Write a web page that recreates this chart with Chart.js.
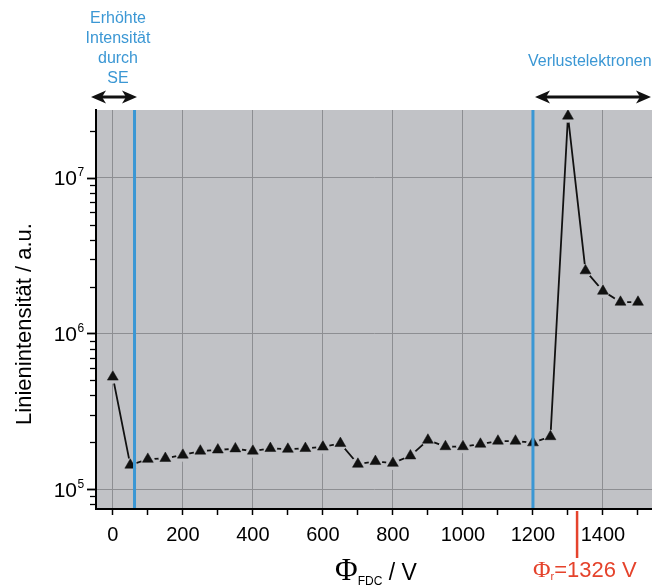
<!DOCTYPE html>
<html>
<head>
<meta charset="utf-8">
<script src="https://cdn.jsdelivr.net/npm/chart.js@4/dist/chart.umd.min.js"></script>
<style>
  html, body { margin: 0; padding: 0; background: #ffffff; }
  #wrap { width: 652px; height: 585px; }
</style>
</head>
<body>
<div id="wrap"><canvas id="chart" width="652" height="585"></canvas></div>
<script>
// Retarding potential of the FDC (V)
const potentials = [0, 50, 100, 150, 200, 250, 300, 350, 400, 450, 500, 550, 600, 650, 700, 750,
                    800, 850, 900, 950, 1000, 1050, 1100, 1150, 1200, 1250, 1300, 1350, 1400, 1450, 1500];
// Line intensity (a.u.)
const intensities = [5.26e5, 1.43e5, 1.56e5, 1.58e5, 1.66e5, 1.76e5, 1.79e5, 1.82e5, 1.76e5, 1.83e5,
                     1.81e5, 1.83e5, 1.87e5, 1.97e5, 1.45e5, 1.51e5, 1.47e5, 1.64e5, 2.07e5, 1.88e5,
                     1.88e5, 1.95e5, 2.04e5, 2.04e5, 1.99e5, 2.18e5, 2.49e7, 2.53e6, 1.87e6, 1.59e6, 1.59e6];

// Axis ticks
const xTickValues = [0, 100, 200, 300, 400, 500, 600, 700, 800, 900, 1000, 1100, 1200, 1300, 1400, 1500];
const xLabelStep = 200;
const yDecades = [1e5, 1e6, 1e7];
const yMinorTicks = [8e4, 9e4, 2e5, 3e5, 4e5, 5e5, 6e5, 7e5, 8e5, 9e5,
                     2e6, 3e6, 4e6, 5e6, 6e6, 7e6, 8e6, 9e6, 2e7];

// Region boundaries and the retarding potential marker (V)
const seBoundary = 62;
const lossBoundary = 1200;
const retardPotential = 1326;

const SANS = "'Liberation Sans', Arial, Helvetica, sans-serif";
const SERIF = "'Liberation Serif', 'Times New Roman', serif";
const PLOT_BG = '#c1c2c6';
const GRID = '#8d8e92';
const BLUE = '#3b97d4';
const RED = '#e5432c';

const points = potentials.map((x, i) => ({ x: x, y: intensities[i] }));

// Gray plot area behind grid and data
const plotBackground = {
  id: 'plotBackground',
  beforeDraw(chart) {
    const { ctx, chartArea: a } = chart;
    ctx.save();
    ctx.fillStyle = PLOT_BG;
    ctx.fillRect(a.left, a.top, a.right - a.left, a.bottom - a.top);
    ctx.restore();
  }
};

// Blue boundaries of the two regions
const regionLines = {
  id: 'regionLines',
  afterDatasetsDraw(chart) {
    const { ctx, chartArea: a, scales: { x } } = chart;
    ctx.save();
    ctx.strokeStyle = BLUE;
    ctx.lineWidth = 3;
    [seBoundary, lossBoundary].forEach(v => {
      const px = x.getPixelForValue(v);
      ctx.beginPath();
      ctx.moveTo(px, a.top);
      ctx.lineTo(px, a.bottom - 1);
      ctx.stroke();
    });
    ctx.restore();
  }
};

function arrowHead(ctx, tipX, y, dir) {
  const len = 15, half = 6.5, notch = 4;
  ctx.beginPath();
  ctx.moveTo(tipX, y);
  ctx.lineTo(tipX + dir * len, y - half);
  ctx.lineTo(tipX + dir * (len - notch), y);
  ctx.lineTo(tipX + dir * len, y + half);
  ctx.closePath();
  ctx.fill();
}

function doubleArrow(ctx, x1, x2, y) {
  ctx.save();
  ctx.strokeStyle = '#111';
  ctx.fillStyle = '#111';
  ctx.lineWidth = 3;
  ctx.beginPath();
  ctx.moveTo(x1 + 8, y);
  ctx.lineTo(x2 - 8, y);
  ctx.stroke();
  arrowHead(ctx, x1, y, 1);
  arrowHead(ctx, x2, y, -1);
  ctx.restore();
}

// Φ with a subscript followed by plain text
function phiLabel(ctx, x, baseline, sub, rest, color, phiSize, subSize, restSize, subDrop) {
  ctx.save();
  ctx.fillStyle = color;
  ctx.textAlign = 'left';
  ctx.textBaseline = 'alphabetic';
  ctx.font = phiSize + 'px ' + SERIF;
  ctx.fillText('\u03A6', x, baseline);
  let cx = x + ctx.measureText('\u03A6').width;
  ctx.font = subSize + 'px ' + SANS;
  ctx.fillText(sub, cx, baseline + subDrop);
  cx += ctx.measureText(sub).width;
  ctx.font = restSize + 'px ' + SANS;
  ctx.fillText(rest, cx, baseline);
  ctx.restore();
}

const decorations = {
  id: 'decorations',
  afterDraw(chart) {
    const { ctx, chartArea: a, scales: { x, y } } = chart;
    ctx.save();

    // y tick marks
    ctx.strokeStyle = '#000';
    yMinorTicks.forEach(v => {
      const py = Math.round(y.getPixelForValue(v)) + 0.5;
      ctx.lineWidth = 1.3;
      ctx.beginPath();
      ctx.moveTo(a.left - 6, py);
      ctx.lineTo(a.left, py);
      ctx.stroke();
    });
    yDecades.forEach(v => {
      const py = Math.round(y.getPixelForValue(v)) + 0.5;
      ctx.lineWidth = 1.8;
      ctx.beginPath();
      ctx.moveTo(a.left - 9, py);
      ctx.lineTo(a.left, py);
      ctx.stroke();
    });

    // y tick labels as powers of ten
    ctx.fillStyle = '#000';
    yDecades.forEach(v => {
      const py = y.getPixelForValue(v);
      const exp = Math.round(Math.log10(v));
      ctx.font = '21px ' + SANS;
      ctx.textAlign = 'right';
      ctx.textBaseline = 'alphabetic';
      ctx.fillText('10', 77, py + 7.5);
      ctx.font = '12px ' + SANS;
      ctx.textAlign = 'left';
      ctx.fillText(String(exp), 77.5, py - 1.5);
    });

    // y axis title
    ctx.save();
    ctx.translate(25, 324);
    ctx.rotate(-Math.PI / 2);
    ctx.font = '22px ' + SANS;
    ctx.textAlign = 'center';
    ctx.textBaseline = 'middle';
    ctx.fillText('Linienintensit\u00e4t / a.u.', 0, 0);
    ctx.restore();

    // x axis title
    phiLabel(ctx, 335, 580, 'FDC', ' / V', '#000', 31, 12, 23, 5);

    // retarding potential marker below the axis
    const rx = x.getPixelForValue(retardPotential);
    ctx.strokeStyle = RED;
    ctx.lineWidth = 2.5;
    ctx.beginPath();
    ctx.moveTo(rx, a.bottom + 2);
    ctx.lineTo(rx, a.bottom + 49);
    ctx.stroke();
    phiLabel(ctx, 533, 577, 'r', '=1326 V', RED, 24, 11, 22, 3);

    // region annotations
    ctx.fillStyle = BLUE;
    ctx.font = '16px ' + SANS;
    ctx.textAlign = 'center';
    ctx.textBaseline = 'alphabetic';
    ['Erh\u00f6hte', 'Intensit\u00e4t', 'durch', 'SE'].forEach((t, i) => {
      ctx.fillText(t, 118, 23 + i * 20);
    });
    ctx.textAlign = 'left';
    ctx.fillText('Verlustelektronen', 528, 66);

    doubleArrow(ctx, 91, 137, 97);
    doubleArrow(ctx, 535, 651, 97);

    ctx.restore();
  }
};

new Chart(document.getElementById('chart'), {
  type: 'line',
  data: {
    datasets: [
      {
        data: points,
        borderColor: '#111',
        borderWidth: 1.8,
        pointRadius: 0,
        tension: 0,
        order: 3
      },
      {
        // gap around each marker
        data: points,
        showLine: false,
        pointStyle: 'circle',
        pointRadius: 6.8,
        pointBackgroundColor: PLOT_BG,
        pointBorderWidth: 0,
        order: 2
      },
      {
        data: points,
        showLine: false,
        pointStyle: 'triangle',
        pointRadius: 6.3,
        pointBackgroundColor: '#111',
        pointBorderColor: '#111',
        pointBorderWidth: 0.5,
        order: 1
      }
    ]
  },
  options: {
    responsive: false,
    animation: false,
    devicePixelRatio: 1,
    layout: { autoPadding: false, padding: { top: 110, left: 0, right: 0, bottom: 0 } },
    plugins: { legend: { display: false }, tooltip: { enabled: false } },
    scales: {
      x: {
        type: 'linear',
        min: -48,
        max: 1540,
        afterBuildTicks: s => { s.ticks = xTickValues.map(v => ({ value: v })); },
        afterFit: s => { s.height = 76; s.paddingLeft = 0; s.paddingRight = 0; },
        grid: {
          color: c => (c.tick && c.tick.value % xLabelStep === 0) ? GRID : 'rgba(0,0,0,0)',
          lineWidth: 1,
          tickColor: '#000',
          tickLength: 6,
          tickWidth: 1.5
        },
        border: { color: '#000', width: 2 },
        ticks: {
          autoSkip: false,
          maxRotation: 0,
          padding: 8,
          color: '#000',
          font: { family: SANS, size: 20 },
          callback: v => (v % xLabelStep === 0 ? String(v) : '')
        }
      },
      y: {
        type: 'logarithmic',
        min: 7.47e4,
        max: 2.72e7,
        afterBuildTicks: s => { s.ticks = yDecades.map(v => ({ value: v })); },
        afterFit: s => { s.width = 96; s.paddingTop = 0; s.paddingBottom = 0; },
        grid: { color: GRID, lineWidth: 1, drawTicks: false },
        border: { color: '#000', width: 2 },
        ticks: { display: false }
      }
    }
  },
  plugins: [plotBackground, regionLines, decorations]
});
</script>
</body>
</html>
